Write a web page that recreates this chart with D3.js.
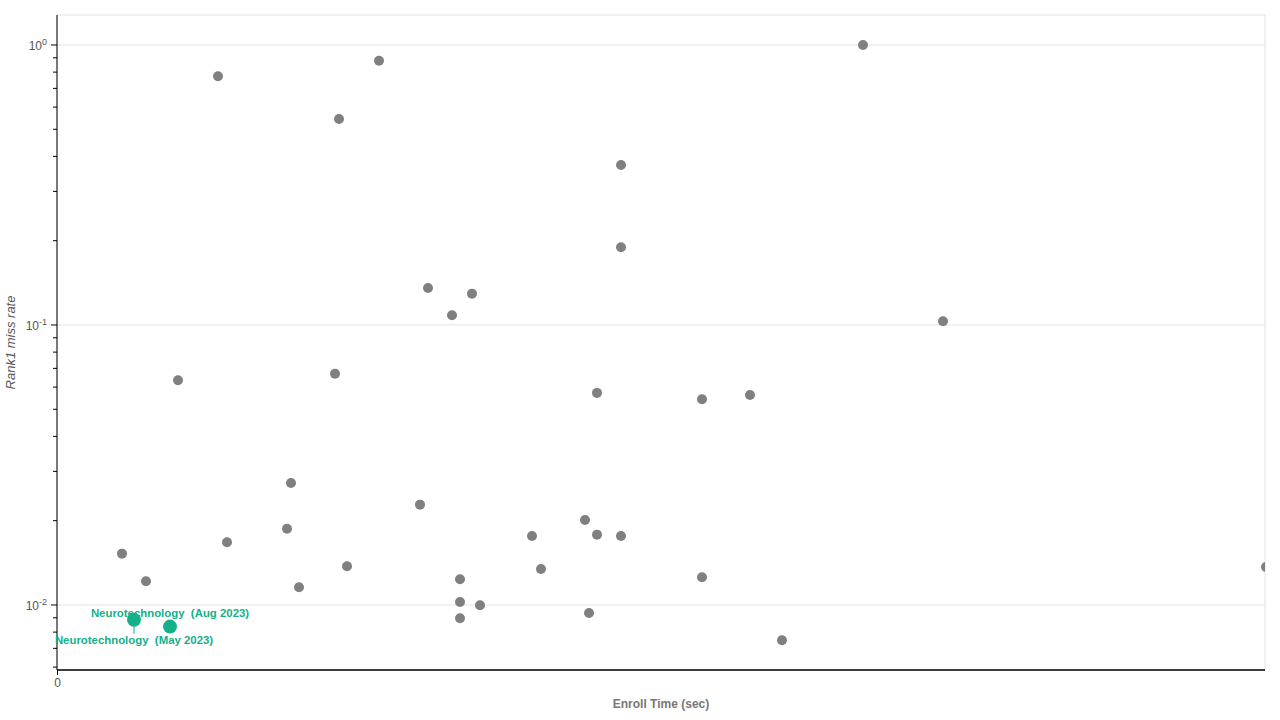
<!DOCTYPE html>
<html>
<head>
<meta charset="utf-8">
<script src="https://cdn.jsdelivr.net/npm/d3@7"></script>
<style>
body{margin:0;background:#fff;}
text{font-family:"Liberation Sans",Arial,sans-serif;}
</style>
</head>
<body>
<script>
// enroll time (sec) and rank1 miss rate for the grey entries
let enrollTimes=[0.065,0.089,0.121,0.161,0.170,0.230,0.234,0.242,0.278,0.282,0.290,0.322,0.363,0.371,0.395,0.403,0.403,0.403,0.415,0.423,0.475,0.484,0.528,0.532,0.540,0.540,0.564,0.564,0.564,0.645,0.645,0.693,0.725,0.806,0.886,1.209];
let missRates=[0.01525,0.01215,0.0635,0.773,0.01675,0.01873,0.02727,0.01157,0.0670,0.544,0.01375,0.879,0.02282,0.1355,0.1083,0.01235,0.01025,0.00897,0.1294,0.00998,0.01764,0.01345,0.02011,0.00936,0.01783,0.0572,0.3728,0.1895,0.01764,0.01256,0.0543,0.0562,0.00748,1.0,0.1031,0.01367];

// highlighted entries
let hlNames=["Neurotechnology  (May 2023)","Neurotechnology  (Aug 2023)"];
let hlTimes=[0.077,0.113];
let hlRates=[0.00886,0.00837];

let yMajor=[1,0.1,0.01];
let xTicks=[0];

let w=1280,h=720;
let padL=57,padR=1265,padT=15,padB=670;
let teal="#14b08a";

let svg=d3.select("body").append("svg").attr("width",w).attr("height",h);

let xScale=d3.scaleLinear().domain([0,1.208]).range([padL,padR]);
let yScale=d3.scaleLog().domain([0.005858,1.2797]).range([padB,padT]);

svg.append("defs").append("clipPath").attr("id","plotclip")
  .append("rect").attr("x",padL).attr("y",padT).attr("width",padR-padL).attr("height",padB-padT);

// frame (top + right) and grid
svg.append("rect").attr("x",padL).attr("y",padT).attr("width",padR-padL).attr("height",padB-padT)
  .attr("fill","none").attr("stroke","#e3e3e3");
svg.append("g").selectAll("line").data(yMajor).enter().append("line")
  .attr("x1",padL).attr("x2",padR)
  .attr("y1",d=>yScale(d)).attr("y2",d=>yScale(d))
  .attr("stroke","#e3e3e3");

// minor ticks 2..9 per decade
let minor=[];
[0.001,0.01,0.1,1].forEach(dec=>{for(let k=2;k<10;k++){let v=dec*k;if(v>=0.005858&&v<=1.2797)minor.push(v);}});

let yAxis=svg.append("g").attr("transform","translate("+padL+",0)");
yAxis.append("line").attr("x1",0).attr("x2",0).attr("y1",padT).attr("y2",padB).attr("stroke","#000");
yAxis.selectAll(".minor").data(minor).enter().append("line").attr("class","minor")
  .attr("x1",-4).attr("x2",0).attr("y1",d=>yScale(d)).attr("y2",d=>yScale(d)).attr("stroke","#000");
yAxis.selectAll(".major").data(yMajor).enter().append("line").attr("class","major")
  .attr("x1",-6).attr("x2",0).attr("y1",d=>yScale(d)).attr("y2",d=>yScale(d)).attr("stroke","#000");
let lbl=yAxis.selectAll(".lbl").data(yMajor).enter().append("text").attr("class","lbl")
  .attr("x",-10).attr("y",d=>yScale(d)+5).attr("text-anchor","end")
  .attr("fill","#555").style("font-size","12px");
lbl.append("tspan").text("10");
lbl.append("tspan").attr("dy",-5).style("font-size","9px").text(d=>Math.round(Math.log10(d)));

// x axis
let xAxis=d3.axisBottom(xScale).tickValues(xTicks).tickSize(5).tickFormat(d3.format("d"));
let gx=svg.append("g").attr("transform","translate(0,"+padB+")").call(xAxis);
gx.select(".domain").attr("stroke","#000").attr("stroke-width",1.5).attr("d","M"+padL+",0H"+padR);
gx.selectAll("text").attr("fill","#555").style("font-size","12px").style("font-family","Liberation Sans, Arial, sans-serif");

// axis titles
svg.append("text").attr("x",(padL+padR)/2).attr("y",708).attr("text-anchor","middle")
  .attr("fill","#777").style("font-size","12px").style("font-weight","bold").text("Enroll Time (sec)");
svg.append("text").attr("transform","translate(15,"+(padT+padB)/2+") rotate(-90)")
  .attr("text-anchor","middle").attr("fill","#555").style("font-size","13px").style("font-style","italic")
  .text("Rank1 miss rate");

// points
let pts=svg.append("g").attr("clip-path","url(#plotclip)");
pts.selectAll(".pt").data(enrollTimes).enter().append("circle").attr("class","pt")
  .attr("cx",d=>xScale(d)).attr("cy",(d,i)=>yScale(missRates[i])).attr("r",5).attr("fill","#808080");

// connector for the May label
pts.append("line").attr("x1",xScale(hlTimes[0])).attr("x2",xScale(hlTimes[0]))
  .attr("y1",yScale(hlRates[0])).attr("y2",yScale(hlRates[0])+14)
  .attr("stroke",teal).attr("stroke-opacity",0.5).attr("stroke-width",2);
pts.selectAll(".hl").data(hlTimes).enter().append("circle").attr("class","hl")
  .attr("cx",d=>xScale(d)).attr("cy",(d,i)=>yScale(hlRates[i])).attr("r",7).attr("fill",teal);

let offs=[24,-10];
svg.selectAll(".hlt").data(hlNames).enter().append("text").attr("class","hlt")
  .attr("x",(d,i)=>xScale(hlTimes[i])).attr("y",(d,i)=>yScale(hlRates[i])+offs[i])
  .attr("text-anchor","middle").attr("fill",teal).style("font-size","11.4px").style("font-weight","bold")
  .style("white-space","pre").text(d=>d);
</script>
</body>
</html>
